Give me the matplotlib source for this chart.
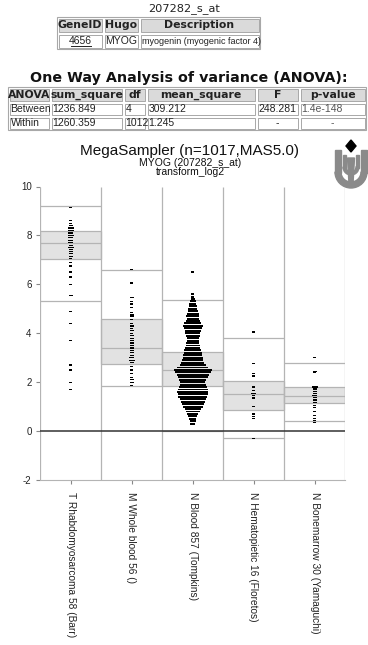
import matplotlib
matplotlib.use('Agg')
import matplotlib.pyplot as plt
from matplotlib.patches import Rectangle, Polygon, Wedge
import numpy as np

plt.rcParams['font.family'] = ['Liberation Sans', 'DejaVu Sans']

# header tables ---------------------------------------------
probe = '207282_s_at'
gene_header = ['GeneID', 'Hugo', 'Description']
gene_row = ['4656', 'MYOG', 'myogenin (myogenic factor 4)']

anova_title = 'One Way Analysis of variance (ANOVA):'
anova_header = ['ANOVA', 'sum_square', 'df', 'mean_square', 'F', 'p-value']
anova_rows = [['Between', '1236.849', '4', '309.212', '248.281', '1.4e-148'],
              ['Within', '1260.359', '1012', '1.245', '-', '-']]

# plot data -------------------------------------------------
groups = ['T Rhabdomyosarcoma 58 (Barr)', 'M Whole blood 56 ()',
          'N Blood 857 (Tompkins)', 'N Hematopietic 16 (Floretos)',
          'N Bonemarrow 30 (Yamaguchi)']
box_lo = [7.05, 2.75, 1.85, 0.85, 1.15]
box_med = [7.7, 3.4, 2.5, 1.5, 1.45]
box_hi = [8.2, 4.6, 3.25, 2.05, 1.8]
line_lo = [5.3, 1.85, 0.0, -0.28, 0.4]
line_hi = [9.2, 6.6, 5.35, 3.8, 2.8]

# value levels and number of samples at each level
rhabdo_vals = [9.15, 8.6, 8.5, 8.4, 8.3, 8.2, 8.1, 8.0, 7.9, 7.8, 7.7, 7.6, 7.5,
               7.42, 7.35, 7.25, 7.15, 7.05, 6.9, 6.75, 6.5, 6.3, 6.0, 5.55,
               4.9, 4.4, 3.7, 2.7, 2.5, 2.0, 1.7]
rhabdo_counts = [1, 1, 1, 2, 4, 4, 3, 4, 3, 3, 3, 2, 4, 2, 2, 2, 2, 1, 1, 1,
                 1, 1, 1, 2, 1, 1, 1, 1, 1, 1, 1]

wblood_vals = [6.6, 6.05, 5.45, 5.3, 5.2, 5.05, 4.85, 4.75, 4.68, 4.55, 4.4,
               4.3, 4.2, 4.1, 4.0, 3.9, 3.8, 3.7, 3.6, 3.5, 3.4, 3.3, 3.2,
               3.1, 3.0, 2.9, 2.8, 2.65, 2.5, 2.35, 2.2, 2.1, 2.0, 1.85]
wblood_counts = [1, 1, 2, 1, 1, 1, 1, 2, 2, 1, 1, 2, 1, 2, 1, 2, 2, 2, 2, 2,
                 2, 2, 2, 2, 3, 4, 2, 1, 1, 1, 1, 2, 2, 1]

blood_vals = [6.5, 5.6, 5.5, 5.4, 5.3, 5.2, 5.1, 5.0, 4.9, 4.8, 4.7, 4.6, 4.5,
              4.4, 4.3, 4.2, 4.1, 4.0, 3.9, 3.8, 3.7, 3.6, 3.5, 3.4, 3.3,
              3.2, 3.1, 3.0, 2.9, 2.8, 2.7, 2.6, 2.5, 2.4, 2.3, 2.2, 2.1,
              2.0, 1.9, 1.8, 1.7, 1.6, 1.5, 1.4, 1.3, 1.2, 1.1, 1.0, 0.9,
              0.8, 0.7, 0.6, 0.5, 0.4, 0.3]
blood_counts = [1, 1, 1, 2, 4, 5, 6, 7, 8, 10, 11, 10, 12, 15, 18, 16, 14, 13,
                12, 10, 10, 11, 12, 13, 15, 16, 17, 18, 19, 21, 24, 29, 36,
                34, 30, 28, 25, 23, 24, 26, 28, 29, 28, 27, 24, 22, 20, 18,
                14, 12, 9, 7, 5, 4, 3]

hemato_vals = [4.05, 2.75, 2.35, 2.25, 1.8, 1.65, 1.55, 1.45, 1.35, 1.0, 0.7,
               0.6, 0.5, -0.3]
hemato_counts = [1, 1, 1, 1, 1, 1, 3, 1, 1, 1, 1, 1, 1, 1]

bmarrow_vals = [3.0, 2.45, 2.38, 1.8, 1.72, 1.63, 1.55, 1.46, 1.37, 1.27,
                1.17, 1.05, 0.95, 0.8, 0.65, 0.52, 0.42, 0.35]
bmarrow_counts = [1, 2, 1, 4, 2, 2, 2, 3, 2, 2, 2, 1, 1, 1, 1, 1, 1, 1]

all_vals = [rhabdo_vals, wblood_vals, blood_vals, hemato_vals, bmarrow_vals]
all_counts = [rhabdo_counts, wblood_counts, blood_counts, hemato_counts,
              bmarrow_counts]

GRID = '#b4b4b4'
BORDER = '#a8a8a8'
HEAD_BG = '#dadada'

fig = plt.figure(figsize=(3.68, 6.45), dpi=100)

# overlay in pixel coordinates for the html-like part
ov = fig.add_axes([0, 0, 1, 1])
ov.set_xlim(0, 368)
ov.set_ylim(645, 0)
ov.axis('off')


def draw_table(edges, rows_y, rows, aligns, sizes, colors):
    ov.add_patch(Rectangle((edges[0], rows_y[0]), edges[-1] - edges[0],
                           rows_y[-1] - rows_y[0], fill=False, ec=BORDER, lw=0.8))
    for r, row in enumerate(rows):
        for c, txt in enumerate(row):
            x0, x1 = edges[c] + 1.5, edges[c + 1] - 1.5
            y0, y1 = rows_y[r] + 1.5, rows_y[r + 1] - 1.5
            ov.add_patch(Rectangle((x0, y0), x1 - x0, y1 - y0,
                                   fc=HEAD_BG if r == 0 else 'white',
                                   ec=BORDER, lw=0.7))
            ym = (y0 + y1) / 2
            if r == 0:
                ov.text((x0 + x1) / 2, ym, txt, ha='center', va='center',
                        fontsize=7.8, fontweight='bold', family='DejaVu Sans',
                        color='#222222')
            else:
                a = aligns[c] if txt != '-' else 'center'
                xt = (x0 + x1) / 2 if a == 'center' else x0 + 1
                ov.text(xt, ym, txt, ha=a, va='center', fontsize=sizes[c],
                        color=colors[c])


ov.text(184, 9, probe, ha='center', va='center', fontsize=8.2,
        family='DejaVu Sans', color='#222222')
draw_table([57, 103, 139, 260], [17, 33, 49], [gene_header, gene_row],
           ['center', 'left', 'left'], [7.5, 7.5, 6.5],
           ['#222222'] * 3)
ov.plot([71, 91], [45.5, 45.5], color='#222222', lw=0.7)

ov.text(189, 78, anova_title, ha='center', va='center', fontsize=10.3,
        fontweight='bold', family='DejaVu Sans', color='#111111')
draw_table([8, 50, 123, 146, 256, 299, 366], [87, 102, 116, 130],
           [anova_header] + anova_rows, ['left'] * 6, [7.5] * 6,
           ['#222222'] * 5 + ['#555555'])

# chart titles
ov.text(190, 151, 'MegaSampler (n=1017,MAS5.0)', ha='center', va='center',
        fontsize=11, color='#111111')
ov.text(190, 163, 'MYOG (207282_s_at)', ha='center', va='center', fontsize=7.5,
        color='#111111')
ov.text(190, 172, 'transform_log2', ha='center', va='center', fontsize=7.5,
        color='#111111')

# logo
LOGO = '#8a8a8a'
ov.add_patch(Wedge((351, 172), 16, 0, 180, width=6, color=LOGO))
ov.add_patch(Rectangle((335, 150), 6, 22.5, color=LOGO))
ov.add_patch(Rectangle((361, 150), 6, 22.5, color=LOGO))
ov.add_patch(Wedge((351, 167), 8, 0, 180, width=3, color=LOGO))
ov.add_patch(Rectangle((343, 155), 3, 12.5, color=LOGO))
ov.add_patch(Rectangle((356, 155), 3, 12.5, color=LOGO))
ov.add_patch(Polygon([(349, 184), (353, 184), (354.5, 158), (347.5, 158)],
                     closed=True, color=LOGO))
ov.add_patch(Polygon([(351, 140), (356, 146), (351, 152), (346, 146)],
                     closed=True, color='black'))

# main chart
ax = fig.add_axes([40 / 368, 1 - 480 / 645, 305 / 368, (480 - 186.5) / 645])
n = len(groups)
ax.set_xlim(0, n)
ax.set_ylim(-2, 10)
x_per_px = n / (ax.get_position().width * fig.get_figwidth() * fig.dpi)

for i in range(n):
    ax.add_patch(Rectangle((i, box_lo[i]), 1, box_hi[i] - box_lo[i],
                           fc='#e2e2e2', ec=GRID, lw=0.9, zorder=1))
    ax.hlines([line_lo[i], line_hi[i], box_med[i]], i, i + 1, color=GRID,
              lw=0.9, zorder=2)
    v = np.array(all_vals[i])
    c = np.array(all_counts[i])
    w = (2 + c) * x_per_px
    h = 0.08 if len(v) > 40 else 0.05
    ax.barh(v, w, left=i + 0.5 - w / 2, height=h, color='black',
            lw=0, zorder=4)

ax.vlines(range(n + 1), -2, 10, color=GRID, lw=0.9, zorder=2)
ax.axhline(0, color='#333333', lw=1.1, zorder=3)

for s in ['top', 'right', 'left']:
    ax.spines[s].set_visible(False)
ax.spines['bottom'].set_color(GRID)
ax.set_yticks(range(-2, 11, 2))
ax.set_yticklabels([str(t) for t in range(-2, 11, 2)], fontsize=7,
                   color='#222222')
ax.set_xticks(np.arange(n) + 0.5)
ax.set_xticklabels(groups, rotation=270, fontsize=7.3, color='#222222',
                   ha='center', va='top')
ax.tick_params(axis='both', length=3, width=0.8, color='#888888', pad=3)
ax.tick_params(axis='x', pad=6)
ax.patch.set_alpha(0)

fig.savefig('out.png', dpi=100)
